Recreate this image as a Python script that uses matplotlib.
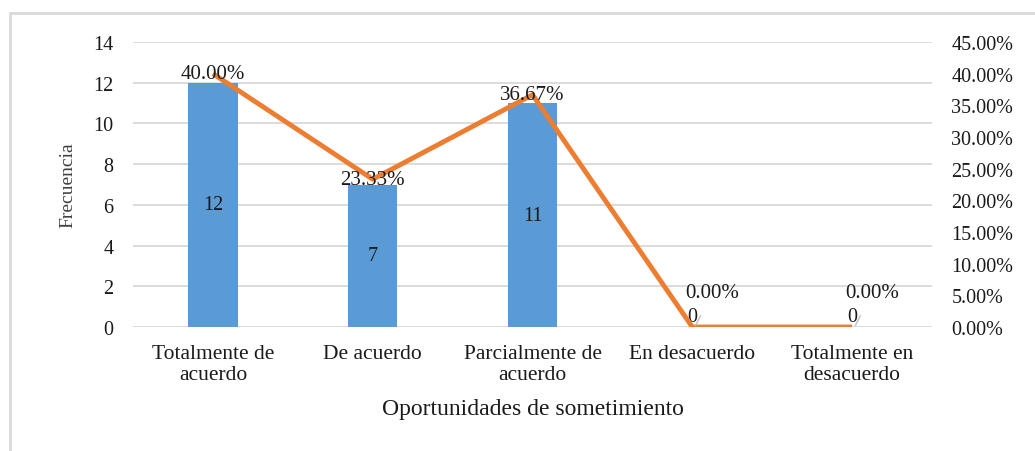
import matplotlib.pyplot as plt
from matplotlib.patches import Rectangle

categorias = ["Totalmente de\nacuerdo", "De acuerdo", "Parcialmente de\nacuerdo",
              "En desacuerdo", "Totalmente en\ndesacuerdo"]
frecuencia = [12, 7, 11, 0, 0]
porcentaje = [0.40, 0.2333, 0.3667, 0.0, 0.0]

plt.rcParams["font.family"] = ["Liberation Serif", "DejaVu Serif"]

AZUL = "#5B9BD5"
NARANJA = "#ED7D31"
GRIS = "#D9D9D9"
TEXTO = "#1a1a1a"

fig = plt.figure(figsize=(10.35, 4.52), dpi=100)
fig.patches.append(Rectangle((10 / 1035, -0.1), 1.2, 1 - 14 / 452 + 0.1,
                             transform=fig.transFigure, fill=False,
                             edgecolor=GRIS, linewidth=2))

ax = fig.add_axes([133 / 1035, 1 - 328 / 452, 799 / 1035, 285 / 452])
x = range(len(categorias))
ax.bar(x, frecuencia, width=0.31, color=AZUL, zorder=2)
ax.set_ylim(0, 14)
ax.set_xlim(-0.5, len(categorias) - 0.5)
ax.set_yticks(range(0, 15, 2))
ax.yaxis.grid(True, color=GRIS, linewidth=1.3, zorder=0)
ax.set_axisbelow(True)
for s in ax.spines.values():
    s.set_visible(False)
ax.tick_params(length=0, labelsize=14.5, colors=TEXTO, pad=14)
ax.tick_params(axis="x", pad=12, labelsize=15.5)
ax.set_xticks(list(x))
ax.set_xticklabels(categorias, linespacing=1.2)
ax.set_ylabel("Frecuencia", fontsize=14, color="#404040", labelpad=12)
ax.set_xlabel("Oportunidades de sometimiento", fontsize=17, color=TEXTO, labelpad=10)

for i, v in enumerate(frecuencia):
    if v > 0:
        ax.text(i, v / 2, str(v), ha="center", va="center", fontsize=14.5, color=TEXTO, zorder=4)
    else:
        ax.text(i, 0.5, "0", ha="center", va="center", fontsize=14.5, color=TEXTO, zorder=4)

ax2 = ax.twinx()
ax2.plot(list(x), porcentaje, color=NARANJA, linewidth=3.5, zorder=3, solid_capstyle="butt")
ax2.set_ylim(0, 0.45)
ax2.set_yticks([i * 0.05 for i in range(10)])
ax2.set_yticklabels([f"{i * 5:.2f}%" for i in range(10)])
for s in ax2.spines.values():
    s.set_visible(False)
ax2.tick_params(length=0, labelsize=14.5, colors=TEXTO, pad=14)

for i, p in enumerate(porcentaje):
    if p > 0:
        ax2.text(i, p, f"{p * 100:.2f}%", ha="center", va="center", fontsize=15, color=TEXTO, zorder=5)
    else:
        ax2.annotate(f"{p * 100:.2f}%", xy=(i + 0.02, 0.002), xytext=(i + 0.125, 0.055),
                     ha="center", va="center", fontsize=15, color=TEXTO,
                     arrowprops=dict(arrowstyle="-", color="#BFBFBF", lw=1,
                                     shrinkA=9, shrinkB=0))

fig.savefig("out.png", dpi=100)
